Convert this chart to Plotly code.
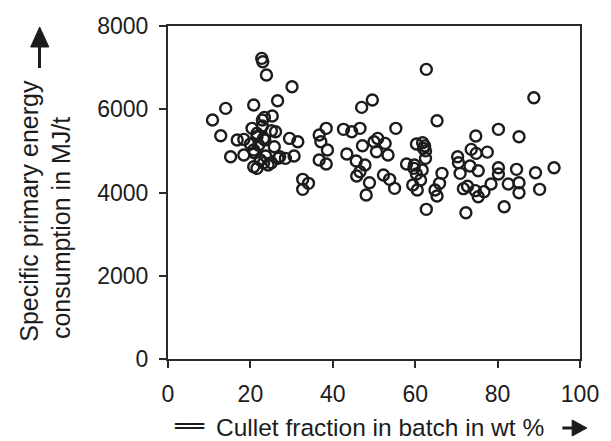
import plotly.graph_objects as go

# Cullet fraction (wt %) and specific primary energy consumption (MJ/t)
cullet_fraction = [
    10.8, 12.8, 14.0, 15.2, 16.8, 18.4, 18.4, 20.0, 20.4, 20.8, 20.8, 21.0, 21.6,
    22.75, 23.0, 23.9, 22.9, 23.4, 22.9, 23.5, 23.7, 23.2, 25.3, 25.1, 26.1, 26.6,
    25.8, 25.1, 26.7, 28.5, 29.5, 30.1, 30.6, 31.5, 32.7, 34.1, 32.7,
    22.4, 24.3, 21.6, 20.8, 21.6, 23.2, 22.0, 27.1,
    36.7, 38.4, 37.1, 38.7, 36.7, 38.4, 42.6, 44.6, 46.6, 43.4, 45.7, 47.0, 49.6,
    47.2, 47.8, 45.8, 46.6, 48.9, 48.1, 50.0, 50.9, 52.7, 50.6, 53.4, 52.3, 53.8,
    55.0, 55.3,
    57.9, 59.7, 59.8, 60.3, 61.8, 62.0, 62.3, 62.5, 62.5, 60.3, 61.7, 61.3, 59.4,
    60.5, 62.7, 65.3, 66.5, 65.9, 64.8, 65.3, 62.7,
    70.3, 70.5, 70.9, 71.7, 72.7, 72.3, 73.3, 73.6, 74.7, 74.8, 75.3, 74.6, 76.7,
    75.3, 77.5, 78.4, 80.2, 80.2, 80.2, 81.6, 82.6, 84.6, 85.2, 85.2, 85.2, 88.8,
    89.2, 90.2, 93.7,
]
energy_consumption = [
    5741, 5364, 6021, 4860, 5260, 5276, 4900, 5164, 5541, 6101, 4620, 4956, 5340,
    7222, 7142, 6822, 5741, 5805, 5597, 5260, 4876, 4716, 5837, 5484, 5460, 6205,
    5100, 4716, 4820, 4820, 5300, 6541, 4876, 5220, 4316, 4220, 4076,
    4780, 4660, 4580, 5020, 5420, 5300, 5140, 4860,
    5380, 5541, 5220, 5020, 4780, 4684, 5517, 5460, 5541, 4924, 4756, 6045, 6221,
    5124, 4660, 4396, 4500, 4236, 3939, 5220, 5300, 5180, 4980, 4900, 4420, 4316,
    4100, 5541,
    4684, 4580, 4660, 5164, 5196, 5060, 5120, 5000, 4820, 4444, 4540, 4300, 4180,
    4060, 6958, 5725, 4460, 4220, 4060, 3915, 3595,
    4860, 4716, 4460, 4092, 4150, 3514, 4636, 5036, 5356, 4940, 4524, 4044, 4020,
    3899, 4970, 4204, 5517, 4596, 4444, 3659, 4204, 4556, 5340, 4236, 3995, 6277,
    4476, 4076, 4596,
]

x_ticks = [0, 20, 40, 60, 80, 100]
y_ticks = [0, 2000, 4000, 6000, 8000]

x_title = "Cullet fraction in batch in wt %"
x_title_prefix = "══"
y_title_1 = "Specific primary energy"
y_title_2 = "consumption in MJ/t"

FONT = "Liberation Sans, Arial, sans-serif"
INK = "#1c1c1c"

fig = go.Figure()
fig.add_trace(go.Scatter(
    x=cullet_fraction, y=energy_consumption, mode="markers",
    marker=dict(symbol="circle-open", size=11, color=INK, line=dict(width=2.4, color=INK)),
    showlegend=False, hoverinfo="x+y",
))

axis_common = dict(
    showline=True, linecolor="#2a2a2a", linewidth=2, mirror=True,
    ticks="outside", ticklen=7, tickwidth=1.5, tickcolor="#2a2a2a",
    showgrid=False, zeroline=False,
    tickfont=dict(family=FONT, size=23, color=INK),
)
fig.update_xaxes(range=[0, 100], tickvals=x_ticks, ticktext=[str(v) for v in x_ticks],
                 ticklabelstandoff=6, **axis_common)
fig.update_yaxes(range=[0, 8000], tickvals=y_ticks, ticktext=[str(v) for v in y_ticks],
                 ticklabelstandoff=6, **axis_common)

W, H = 611, 441
L, R, T, B = 168, 23, 26, 82
pw, ph = W - L - R, H - T - B


def px(xp):
    return (xp - L) / pw


def py(yp):
    return (H - B - yp) / ph


annotations = [
    dict(text=x_title, x=px(215), y=py(427), xref="paper", yref="paper",
         xanchor="left", yanchor="middle", showarrow=False,
         font=dict(family=FONT, size=24.5, color=INK)),
    dict(text="<b>" + x_title_prefix + "</b>", x=px(189.5), y=py(426), xref="paper", yref="paper",
         xanchor="center", yanchor="middle", showarrow=False,
         font=dict(family="DejaVu Sans", size=24, color=INK)),
    dict(text=y_title_1, x=px(26), y=py(211), xref="paper", yref="paper",
         xanchor="center", yanchor="middle", textangle=-90, showarrow=False,
         font=dict(family=FONT, size=25, color=INK)),
    dict(text=y_title_2, x=px(59), y=py(228), xref="paper", yref="paper",
         xanchor="center", yanchor="middle", textangle=-90, showarrow=False,
         font=dict(family=FONT, size=25, color=INK)),
]

shapes = [
    # up arrow next to y title
    dict(type="line", xref="paper", yref="paper", x0=px(37), x1=px(37), y0=py(68), y1=py(46),
         line=dict(color=INK, width=3)),
    dict(type="path", xref="paper", yref="paper",
         path=f"M {px(28)} {py(47)} L {px(46.5)} {py(47)} L {px(37.2)} {py(27)} Z",
         fillcolor=INK, line=dict(color=INK, width=1)),
    # right arrow after x title
    dict(type="line", xref="paper", yref="paper", x0=px(570), x1=px(581), y0=py(428), y1=py(428),
         line=dict(color=INK, width=3)),
    dict(type="path", xref="paper", yref="paper",
         path=f"M {px(580)} {py(420)} L {px(580)} {py(436)} L {px(595)} {py(428)} Z",
         fillcolor=INK, line=dict(color=INK, width=1)),
]

fig.update_layout(
    width=W, height=H,
    margin=dict(l=L, r=R, t=T, b=B, pad=0),
    paper_bgcolor="white", plot_bgcolor="white",
    annotations=annotations, shapes=shapes,
)

fig.write_html("out.html")
